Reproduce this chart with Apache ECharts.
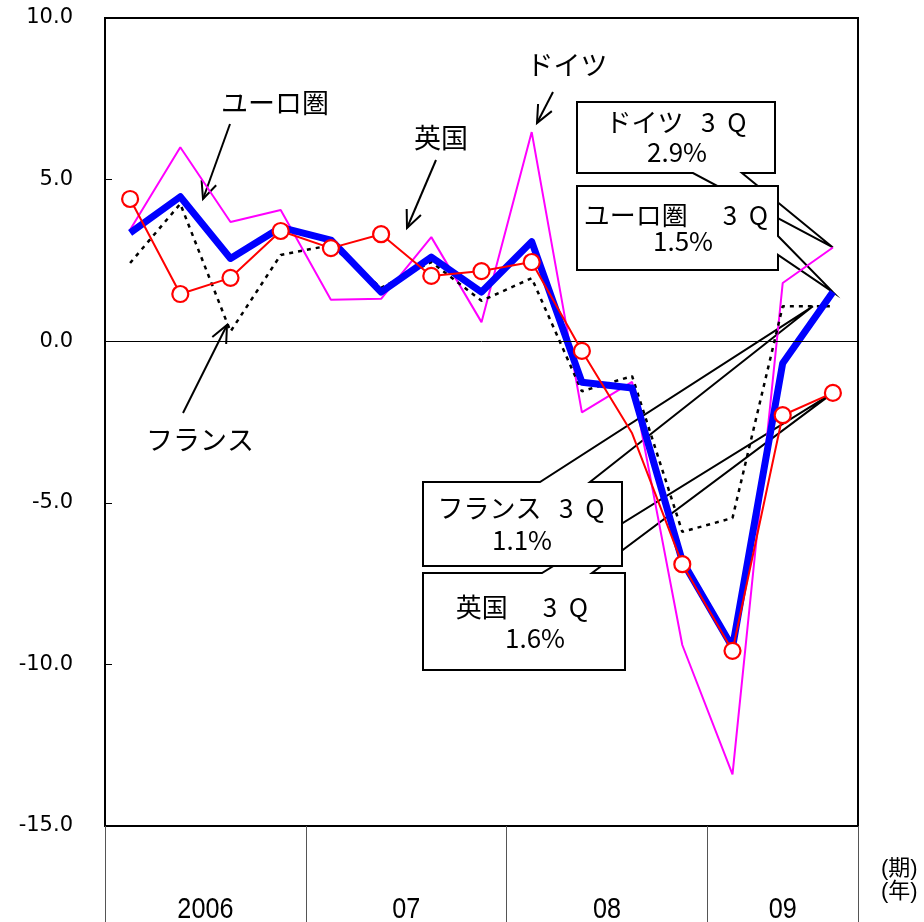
<!DOCTYPE html>
<html><head><meta charset="utf-8">
<script src="https://cdn.jsdelivr.net/npm/echarts@6/dist/echarts.min.js"></script>
<style>html,body{margin:0;padding:0;background:#fff}#c{width:924px;height:922px}</style>
</head><body><div id="c"></div>
<script>
// ---- data ----
const quarters = ['2006Q1','2006Q2','2006Q3','2006Q4','2007Q1','2007Q2','2007Q3','2007Q4','2008Q1','2008Q2','2008Q3','2008Q4','2009Q1','2009Q2','2009Q3'];
const euroArea = [3.35, 4.47, 2.56, 3.52, 3.13, 1.52, 2.6, 1.52, 3.08, -1.27, -1.45, -6.8, -9.47, -0.68, 1.52];
const uk       = [4.4, 1.46, 1.96, 3.41, 2.88, 3.31, 2.02, 2.17, 2.45, -0.3, -2.85, -6.9, -9.58, -2.29, -1.6];
const germany  = [3.45, 6.0, 3.69, 4.06, 1.28, 1.31, 3.22, 0.59, 6.47, -2.2, -1.26, -9.4, -13.4, 1.8, 2.9];
const france   = [2.42, 4.25, 0.3, 2.67, 2.97, 1.65, 2.45, 1.25, 1.95, -1.55, -1.08, -5.9, -5.47, 1.08, 1.08];
const ukNoMarkerIndex = 10;
const yearLabels = ['2006','07','08','09'];
const quartersPerYear = [4,4,4,3];
const yTicks = {min:-15, max:10, interval:5};
const seriesNames = ['ユーロ圏','英国','ドイツ','フランス'];
const calloutTexts = {
  germany: ['ドイツ   3  Q','2.9%'],
  euro: ['ユーロ圏      3  Q','1.5%'],
  france: ['フランス   3  Q','1.1%'],
  uk: ['英国      3  Q','1.6%']
};
const axisUnitLabels = ['(期)','(年)'];

// ---- chart ----
const yearCenters = []; let acc = 0;
quartersPerYear.forEach(n => { yearCenters.push(acc + n/2); acc += n; });

const chart = echarts.init(document.getElementById('c'));
const BLUE='#0000FF', RED='#FF0000', MAG='#FF00FF';

chart.setOption({
  animation:false,
  grid:{left:105, right:66, top:18, bottom:96, show:true, borderColor:'#000', borderWidth:2, backgroundColor:'transparent', outerBoundsMode:'none'},
  xAxis:[
    {type:'category', data:quarters, boundaryGap:true,
     axisLine:{show:true, onZero:false, lineStyle:{color:'#000', width:2}},
     axisTick:{show:true, inside:false, length:96, interval:(i)=> i % 4 === 0, lineStyle:{color:'#555', width:1}},
     axisLabel:{show:false}, splitLine:{show:false}},
    {type:'value', min:0, max:quarters.length, interval:0.5, position:'bottom',
     axisLine:{show:false, onZero:false}, axisTick:{show:false}, splitLine:{show:false}, axisLabel:{show:false}}
  ],
  yAxis:{type:'value', min:yTicks.min, max:yTicks.max, interval:yTicks.interval,
    axisLine:{show:true, lineStyle:{color:'#000', width:2}},
    axisTick:{show:true, inside:true, length:7, lineStyle:{color:'#000', width:1}},
    splitLine:{show:false},
    axisLabel:{margin:32, color:'#000', fontSize:21, fontFamily:'"DejaVu Sans",sans-serif', formatter:(v)=>v.toFixed(1)}},
  series:[
    {name:seriesNames[2], type:'line', data:germany, symbol:'none', lineStyle:{color:MAG, width:2}, z:2},
    {name:seriesNames[3], type:'line', data:france, symbol:'none', lineStyle:{color:'#000', width:2.5, type:[4,5]}, z:3},
    {name:seriesNames[0], type:'line', data:euroArea, symbol:'none', lineStyle:{color:BLUE, width:7, join:'round'}, z:4,
     markLine:{silent:true, symbol:'none', label:{show:false}, lineStyle:{color:'#000', width:1, type:'solid'}, data:[{yAxis:0}]}},
    {name:seriesNames[1], type:'line', data:uk.map((v,i)=> i===ukNoMarkerIndex ? {value:v, symbol:'none'} : v),
     symbol:'circle', symbolSize:16, showAllSymbol:true,
     itemStyle:{color:'#fff', borderColor:RED, borderWidth:2.2}, lineStyle:{color:RED, width:2}, z:5}
  ]
});

// ---- annotations ----
const last = quarters.length - 1;
const px = (v) => chart.convertToPixel({xAxisIndex:0, yAxisIndex:0}, [last, v]);
const tipG = px(germany[last]);
const tipE = px(euroArea[last]);
const tipF = px(france[last]); tipF[0] -= 20;
const tipU = px(uk[last]);

function callout(box, side, a, b, tip){
  const [x1,y1,x2,y2] = box; let pts;
  if (side==='bottom') pts = [[x1,y1],[x2,y1],[x2,y2],[b,y2],tip,[a,y2],[x1,y2]];
  else if (side==='right') pts = [[x1,y1],[x2,y1],[x2,a],tip,[x2,b],[x2,y2],[x1,y2]];
  else pts = [[x1,y1],[a,y1],tip,[b,y1],[x2,y1],[x2,y2],[x1,y2]];
  return {type:'polygon', shape:{points:pts}, style:{fill:'#fff', stroke:'#000', lineWidth:2}};
}
const CF = '"Noto Sans CJK JP",sans-serif';
function txt(s, x, y, size, font, align, sx){
  return {type:'text', x:x, y:y, scaleX:sx||1, style:{text:s, fill:'#000', fontSize:size, fontFamily:font||CF, align:align||'center', verticalAlign:'middle'}};
}
function arrow(x1,y1,x2,y2){
  const ang = Math.atan2(y2-y1, x2-x1), L=19, w=0.42;
  const h1 = [x2 - L*Math.cos(ang-w), y2 - L*Math.sin(ang-w)];
  const h2 = [x2 - L*Math.cos(ang+w), y2 - L*Math.sin(ang+w)];
  return [
    {type:'polyline', shape:{points:[[x1,y1],[x2,y2]]}, style:{stroke:'#000', lineWidth:2, fill:null}},
    {type:'polyline', shape:{points:[h1,[x2,y2],h2]}, style:{stroke:'#000', lineWidth:2, fill:null}}
  ];
}
const LF = '"Noto Sans CJK JP",sans-serif';
const g = [];
g.push(callout([577,102,775,173],'bottom',693,742,tipG));
g.push(callout([577,186,778,270],'right',236,255,tipE));
g.push(callout([423,573,625,670],'top',542,592,tipU));
g.push(callout([423,482,622,566],'top',540,590,tipF));
g.push(txt(calloutTexts.germany[0],676,122,26));
g.push(txt(calloutTexts.germany[1],677,152,26));
g.push(txt(calloutTexts.euro[0],676,215,26));
g.push(txt(calloutTexts.euro[1],683,241,26));
g.push(txt(calloutTexts.france[0],521,508,26));
g.push(txt(calloutTexts.france[1],522,540,26));
g.push(txt(calloutTexts.uk[0],522,607,26));
g.push(txt(calloutTexts.uk[1],535,638,26));
g.push(txt(seriesNames[0],275,103,27,LF));
g.push(txt(seriesNames[1],441,138,27,LF));
g.push(txt(seriesNames[2],567,65,27,LF));
g.push(txt(seriesNames[3],200,440,27,LF));
g.push(...arrow(230,124,203,199));
g.push(...arrow(436,160,407,228));
g.push(...arrow(553,92,537,123));
g.push(...arrow(183,413,227,325));
// year labels positioned through the hidden value axis
const YF = '"Liberation Sans",Arial,sans-serif';
yearLabels.forEach((lab,i)=>{
  const x = chart.convertToPixel({xAxisIndex:1}, yearCenters[i]);
  g.push(txt(lab, x, 910, 30, YF, 'center', 0.84));
});
g.push(txt(axisUnitLabels[0],881,869,22,'"Liberation Sans","Noto Sans CJK JP",sans-serif','left'));
g.push(txt(axisUnitLabels[1],881,892,22,'"Liberation Sans","Noto Sans CJK JP",sans-serif','left'));
chart.setOption({graphic:{elements:g.map(e=>Object.assign({z:1, silent:true}, e))}});
</script>
</body></html>
